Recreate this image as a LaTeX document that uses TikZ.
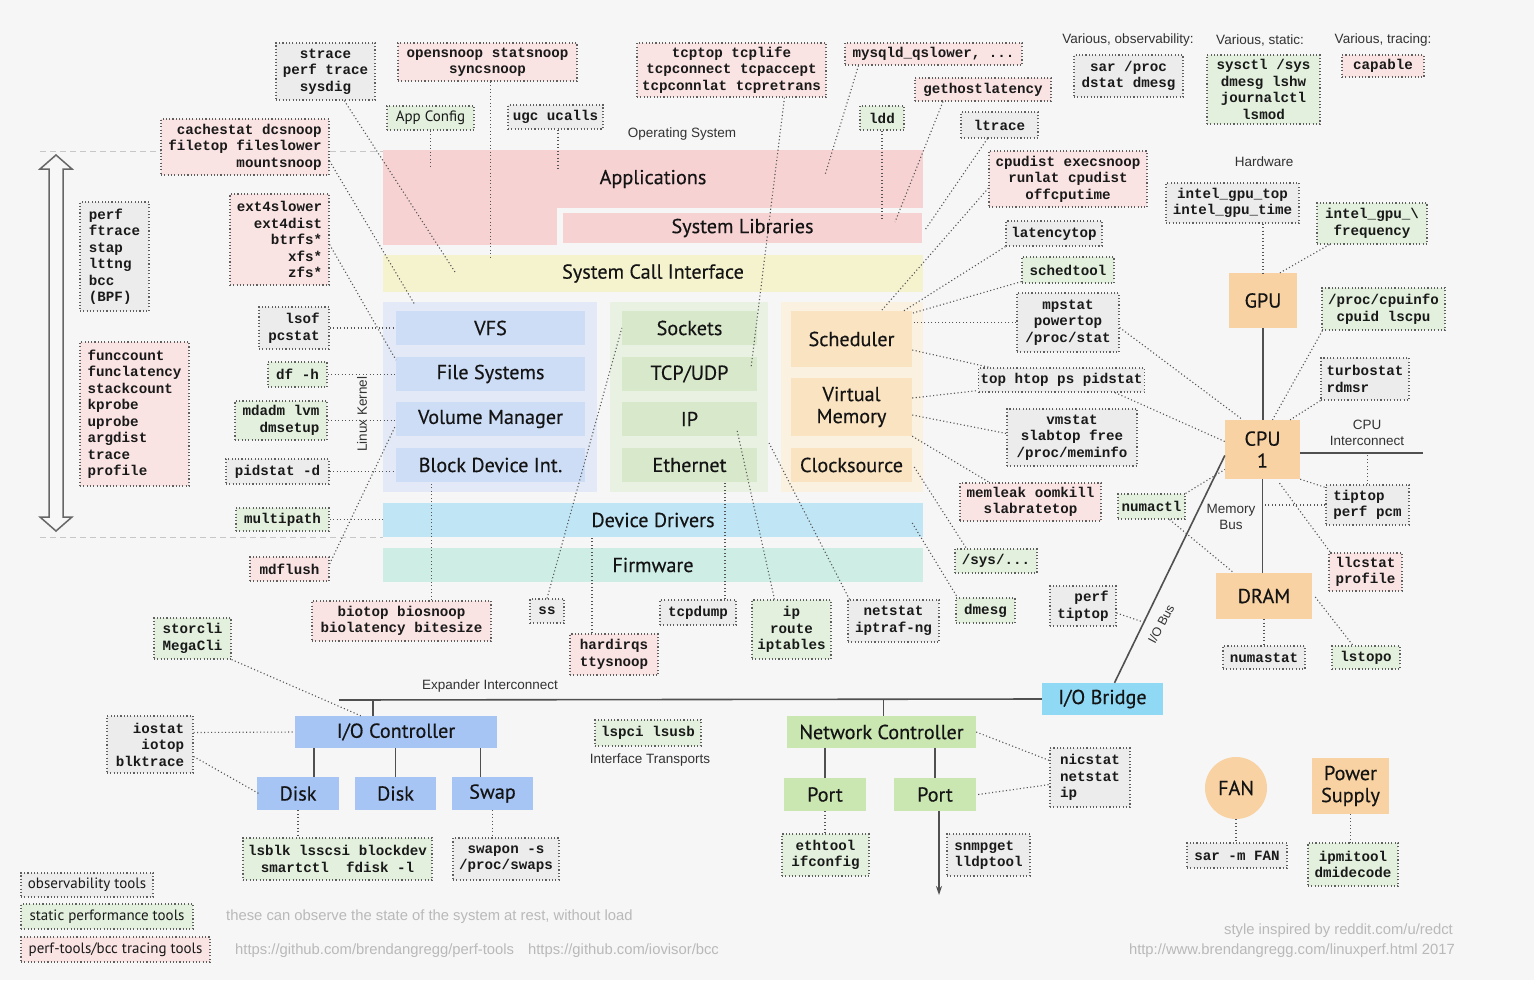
\documentclass[tikz,border=0pt]{standalone}
\usepackage{fontspec}
\setmainfont{Liberation Sans}
\newfontfamily\monof{Liberation Mono}
\newfontfamily\titlef[FakeBold=0.35]{PT Sans}
\newfontfamily\legf{PT Sans}
\usetikzlibrary{calc,arrows.meta}
\definecolor{bgc}{RGB}{246,246,246}
\definecolor{appc}{RGB}{247,210,211}
\definecolor{scic}{RGB}{245,243,206}
\definecolor{bgrpc}{RGB}{227,233,246}
\definecolor{bboxc}{RGB}{206,221,246}
\definecolor{ggrpc}{RGB}{233,241,226}
\definecolor{gboxc}{RGB}{216,232,202}
\definecolor{ogrpc}{RGB}{251,241,225}
\definecolor{oboxc}{RGB}{250,227,192}
\definecolor{ddc}{RGB}{192,229,245}
\definecolor{fwc}{RGB}{205,237,229}
\definecolor{hwc}{RGB}{248,210,162}
\definecolor{brc}{RGB}{143,217,245}
\definecolor{ioc}{RGB}{166,197,245}
\definecolor{ncc}{RGB}{202,231,178}
\definecolor{obsc}{RGB}{236,236,236}
\definecolor{stac}{RGB}{226,240,221}
\definecolor{trcc}{RGB}{250,227,227}
\definecolor{notec}{RGB}{95,95,95}
\definecolor{connc}{RGB}{85,85,85}
\definecolor{wirec}{RGB}{80,80,80}
\definecolor{lblc}{RGB}{50,50,50}
\definecolor{footc}{RGB}{185,185,185}
\newcommand\bx[7]{%
 \pgfmathsetmacro\bxcx{(#3+#5)/2}\pgfmathsetmacro\bxcy{(#4+#6)/2}%
 \pgfmathsetmacro\bxw{#5-#3}\pgfmathsetmacro\bxh{#6-#4}%
 \node[#2, minimum width=\bxw pt, minimum height=\bxh pt] (#1) at (\bxcx,\bxcy) {#7};}
\begin{document}
\begin{tikzpicture}[x=1pt,y=-1pt,
 note/.style={draw=notec, line width=1.1pt, dash pattern=on 1.1pt off 2.2pt, font=\monof\bfseries\fontsize{14.2}{16.5}\selectfont, inner sep=2pt, align=center, text=black!90},
 obs/.style={note, fill=obsc},
 sta/.style={note, fill=stac},
 trc/.style={note, fill=trcc},
 layer/.style={inner sep=0pt, font=\titlef\fontsize{20.2}{22}\selectfont, align=center, text=black!92},
 conn/.style={draw=connc, line width=1.1pt, dash pattern=on 1.1pt off 2.4pt},
 wire/.style={draw=wirec, line width=1.6pt},
 lbl/.style={font=\fontsize{13.5}{16}\selectfont, text=lblc, align=center, inner sep=0pt},
 foot/.style={font=\fontsize{14.8}{17}\selectfont, text=footc, inner sep=0pt},
 sansnote/.style={font=\legf\fontsize{15}{17}\selectfont}
]
\useasboundingbox (0,0) rectangle (1534,980);
\fill[bgc] (0,0) rectangle (1534,980);

% dashed guide lines
\draw[black!22, line width=0.9pt, dash pattern=on 6pt off 4pt] (40,151) -- (383,151);
\draw[black!22, line width=0.9pt, dash pattern=on 6pt off 4pt] (40,537) -- (383,537);

% big double arrow
\draw[black!60, line width=1.5pt, fill=white!97!black, line join=miter]
 (56,155) -- (72,169) -- (63,169) -- (63,517) -- (72,517) -- (56,531) -- (40,517) -- (49,517) -- (49,169) -- (40,169) -- cycle;

% ---------- OS layers
\bx{apps}{layer, fill=appc}{383}{150}{923}{208}{Applications}
\fill[appc] (383,207) rectangle (557,245);
\bx{syslib}{layer, fill=appc}{563}{213}{922}{243}{System Libraries}
\bx{sci}{layer, fill=scic}{383}{255}{923}{292}{System Call Interface}
\bx{bgrp}{layer, fill=bgrpc}{383}{302}{597}{492}{}
\bx{ggrp}{layer, fill=ggrpc}{610}{302}{768}{492}{}
\bx{ogrp}{layer, fill=ogrpc}{781}{302}{923}{492}{}
\bx{vfs}{layer, fill=bboxc}{396}{311}{585}{345}{VFS}
\bx{fs}{layer, fill=bboxc}{396}{357}{585}{391}{File Systems}
\bx{vm}{layer, fill=bboxc}{396}{402}{585}{436}{Volume Manager}
\bx{bdi}{layer, fill=bboxc}{396}{448}{585}{482}{Block Device Int.}
\bx{sock}{layer, fill=gboxc}{622}{311}{757}{345}{Sockets}
\bx{tcp}{layer, fill=gboxc}{622}{357}{757}{391}{TCP/UDP}
\bx{ip}{layer, fill=gboxc}{622}{402}{757}{436}{IP}
\bx{eth}{layer, fill=gboxc}{622}{448}{757}{482}{Ethernet}
\bx{sched}{layer, fill=oboxc}{791}{311}{912}{367}{Scheduler}
\bx{vmem}{layer, fill=oboxc}{791}{378}{912}{436}{Virtual\\Memory}
\bx{clk}{layer, fill=oboxc}{791}{448}{912}{482}{Clocksource}
\bx{dd}{layer, fill=ddc}{383}{503}{923}{537}{Device Drivers}
\bx{fw}{layer, fill=fwc}{383}{548}{923}{582}{Firmware}

% ---------- hardware
\bx{gpu}{layer, fill=hwc}{1229}{273}{1297}{328}{GPU}
\bx{cpu}{layer, fill=hwc}{1225}{420}{1300}{479}{CPU\\1}
\bx{dram}{layer, fill=hwc}{1216}{573}{1312}{619}{DRAM}
\bx{iobr}{layer, fill=brc}{1042}{683}{1163}{715}{I/O Bridge}
\bx{ioc}{layer, fill=ioc}{295}{716}{497}{748}{I/O Controller}
\bx{disk1}{layer, fill=ioc}{257}{777}{339}{810}{Disk}
\bx{disk2}{layer, fill=ioc}{355}{777}{436}{810}{Disk}
\bx{swap}{layer, fill=ioc}{452}{777}{533}{810}{Swap}
\bx{nc}{layer, fill=ncc}{787}{716}{976}{748}{Network Controller}
\bx{port1}{layer, fill=ncc}{784}{778}{866}{811}{Port}
\bx{port2}{layer, fill=ncc}{894}{778}{976}{811}{Port}
\node[layer, circle, fill=hwc, minimum size=62pt] (fan) at (1236,788) {FAN};
\bx{psu}{layer, fill=hwc}{1312}{758}{1389}{814}{Power\\Supply}

% ---------- labels
\node[lbl] (los) at (682,134) {Operating System};
\node[lbl] (lvo) at (1128,40) {Various, observability:};
\node[lbl] (lvs) at (1260,40) {Various, static:};
\node[lbl] (lvt) at (1383,40) {Various, tracing:};
\node[lbl] (lhw) at (1264,162) {Hardware};
\node[lbl] (lci) at (1367,433) {CPU\\Interconnect};
\node[lbl] (lmb) at (1231,517) {Memory\\Bus};
\node[lbl, font=\fontsize{12.5}{15}\selectfont, rotate=62] (liob) at (1161,624) {I/O Bus};
\node[lbl] (lexp) at (490,686) {Expander Interconnect};
\node[lbl] (lit) at (650,760) {Interface Transports};
\node[lbl, rotate=90] (llk) at (362,414) {Linux Kernel};

% ---------- solid wires
\coordinate (ic) at (1423,453);
\coordinate (exL) at (339,700);
\draw[wire] (gpu.south) -- (gpu.south |- cpu.north);
\draw[wire] (cpu.south) -- (cpu.south |- dram.north);
\draw[wire] (cpu.east |- ic) -- (ic);
\draw[wire] ($(cpu.west)+(0,6)$) -- ($(iobr.north)+(12,0)$);
\draw[wire] (exL) -- (iobr.west);
\draw[wire] ([xshift=-23pt]ioc.north) -- ([xshift=-23pt]ioc.north |- exL);
\draw[wire] ([xshift=2pt]nc.north) -- ([xshift=2pt]nc.north |- exL);
\draw[wire] ([xshift=16pt]disk1.north) -- ([xshift=16pt]disk1.north |- ioc.south);
\draw[wire] (disk2.north) -- (disk2.north |- ioc.south);
\draw[wire] ([xshift=-12pt]swap.north) -- ([xshift=-12pt]swap.north |- ioc.south);
\draw[wire] (port1.north) -- (port1.north |- nc.south);
\draw[wire] (port2.north) -- (port2.north |- nc.south);
\coordinate (netout) at (939,895);
\draw[wire, line width=1.4pt, -{Stealth[length=9pt,width=6pt]}] (port2.south -| netout) -- (netout);

% ---------- notes
\bx{strace}{obs}{276}{43}{375}{100}{strace\\perf trace\\sysdig}
\bx{opensnoop}{trc}{398}{43}{577}{81}{opensnoop statsnoop\\syncsnoop}
\bx{tcptop}{trc}{637}{43}{826}{97}{tcptop tcplife\\tcpconnect tcpaccept\\tcpconnlat tcpretrans}
\bx{mysqld}{trc}{845}{43}{1022}{65}{mysqld\_qslower, ...}
\bx{gethost}{trc}{915}{78}{1051}{101}{gethostlatency}
\bx{ldd}{sta}{860}{106}{904}{130}{ldd}
\bx{ltrace}{obs}{961}{112}{1038}{138}{ltrace}
\bx{cpudist}{trc}{989}{151}{1147}{207}{cpudist execsnoop\\runlat cpudist\\offcputime}
\bx{latencytop}{obs}{1006}{221}{1102}{246}{latencytop}
\bx{schedtool}{sta}{1022}{257}{1114}{283}{schedtool}
\bx{mpstat}{obs}{1017}{293}{1119}{352}{mpstat\\powertop\\/proc/stat}
\bx{tophtop}{obs}{988}{368}{1135}{392}{top htop ps pidstat}
\bx{vmstat}{obs}{1007}{409}{1137}{466}{vmstat\\slabtop free\\/proc/meminfo}
\bx{memleak}{trc}{960}{483}{1101}{521}{memleak oomkill\\slabratetop}
\bx{sys}{sta}{955}{549}{1037}{573}{/sys/...}
\bx{dmesg}{sta}{956}{598}{1015}{623}{dmesg}
\bx{perftip}{obs, align=right}{1050}{586}{1116}{626}{perf\\tiptop}
\bx{numactl}{sta}{1118}{494}{1185}{519}{numactl}
\bx{appconf}{sta, sansnote}{387}{106}{474}{130}{App Config}
\bx{ugc}{obs}{508}{105}{603}{129}{ugc ucalls}
\bx{cachestat}{trc, align=right}{161}{119}{329}{175}{cachestat dcsnoop\\filetop fileslower\\mountsnoop}
\bx{ext4}{trc, align=right}{230}{194}{329}{285}{ext4slower\\ext4dist\\btrfs*\\xfs*\\zfs*}
\bx{perfl}{obs, align=left}{80}{202}{149}{311}{perf\\ftrace\\stap\\lttng\\bcc\\(BPF)}
\bx{funcc}{trc, align=left}{80}{342}{189}{486}{funccount\\funclatency\\stackcount\\kprobe\\uprobe\\argdist\\trace\\profile}
\bx{lsof}{obs, align=right}{259}{307}{329}{349}{lsof\\pcstat}
\bx{dfh}{sta}{268}{362}{327}{387}{df -h}
\bx{mdadm}{sta, align=right}{235}{401}{327}{440}{mdadm lvm\\dmsetup}
\bx{pidstatd}{obs}{226}{459}{329}{484}{pidstat -d}
\bx{multipath}{sta}{236}{508}{329}{531}{multipath}
\bx{mdflush}{trc}{250}{557}{329}{581}{mdflush}
\bx{sarproc}{obs}{1074}{55}{1183}{97}{sar /proc\\dstat dmesg}
\bx{sysctl}{sta}{1207}{55}{1320}{124}{sysctl /sys\\dmesg lshw\\journalctl\\lsmod}
\bx{capable}{trc}{1342}{55}{1424}{77}{capable}
\bx{igt}{obs}{1166}{183}{1299}{223}{intel\_gpu\_top\\intel\_gpu\_time}
\bx{igf}{sta}{1317}{203}{1427}{244}{intel\_gpu\_\textbackslash\\frequency}
\bx{cpuinfo}{sta}{1322}{288}{1445}{330}{/proc/cpuinfo\\cpuid lscpu}
\bx{turbo}{obs, align=left}{1321}{358}{1409}{400}{turbostat\\rdmsr}
\bx{tiptop}{obs, align=left}{1326}{485}{1409}{525}{tiptop\\perf pcm}
\bx{llc}{trc}{1329}{553}{1402}{591}{llcstat\\profile}
\bx{numastat}{obs}{1223}{646}{1305}{669}{numastat}
\bx{lstopo}{sta}{1332}{646}{1400}{669}{lstopo}
\bx{biotop}{trc}{312}{601}{491}{641}{biotop biosnoop\\biolatency bitesize}
\bx{ss}{obs}{530}{599}{564}{623}{ss}
\bx{hardirqs}{trc}{570}{634}{658}{675}{hardirqs\\ttysnoop}
\bx{tcpdump}{obs}{660}{600}{736}{625}{tcpdump}
\bx{iproute}{sta}{752}{600}{831}{659}{ip\\route\\iptables}
\bx{netstat}{obs}{848}{600}{939}{642}{netstat\\iptraf-ng}
\bx{storcli}{sta, align=left}{154}{618}{231}{659}{storcli\\MegaCli}
\bx{iostat}{obs, align=right}{107}{716}{193}{773}{iostat\\iotop\\blktrace}
\bx{lspci}{sta}{595}{720}{701}{746}{lspci lsusb}
\bx{lsblk}{sta}{243}{838}{432}{880}{lsblk lsscsi blockdev\\smartctl\ \ fdisk -l}
\bx{swapon}{obs}{453}{838}{559}{880}{swapon -s\\/proc/swaps}
\bx{ethtool}{sta}{782}{834}{869}{876}{ethtool\\ifconfig}
\bx{snmp}{obs, align=left}{947}{834}{1030}{876}{snmpget\\lldptool}
\bx{nicstat}{obs, align=left}{1050}{748}{1130}{807}{nicstat\\netstat\\ip}
\bx{sarfan}{obs}{1187}{843}{1287}{868}{sar -m FAN}
\bx{ipmi}{sta}{1308}{843}{1398}{886}{ipmitool\\dmidecode}
\bx{leg1}{obs, sansnote}{21}{873}{153}{897}{observability tools}
\bx{leg2}{sta, sansnote}{21}{904}{193}{929}{static performance tools}
\bx{leg3}{trc, sansnote}{21}{937}{210}{962}{perf-tools/bcc tracing tools}

% ---------- dotted connectors
\coordinate (eStrace) at (455,272);
\coordinate (eTcp) at (751,368);
\coordinate (eMysql) at (825,175);
\coordinate (eGh) at (895,222);
\coordinate (eLt) at (925,230);
\coordinate (eCpud) at (882,310);
\coordinate (eLat) at (902,312);
\coordinate (eSt) at (913,313);
\coordinate (eIob) at (1143,622);
\coordinate (eIp) at (737,430);
\coordinate (eNs) at (769,443);
\coordinate (eCs) at (415,305);
\coordinate (eExt) at (396,360);
\draw[conn] (strace) -- (eStrace);
\draw[conn] ([xshift=3pt]opensnoop.south) -- ++(0,176);
\draw[conn] (appconf.south) -- ++(0,38);
\draw[conn] ([xshift=2.5pt]ugc.south) -- ++(0,39);
\draw[conn] ([xshift=53pt]tcptop.south) -- (eTcp);
\draw[conn] ([xshift=-75pt]mysqld.south) -- (eMysql);
\draw[conn] ([xshift=-40pt]gethost.south) -- (eGh);
\draw[conn] (ldd.south) -- ++(0,90);
\draw[conn] ([xshift=-12pt]ltrace.south) -- (eLt);
\draw[conn] ($(cpudist.west)+(0,9)$) -- (eCpud);
\draw[conn] (latencytop.south west) -- (eLat);
\draw[conn] ($(schedtool.south west)+(0,-2)$) -- (eSt);
\draw[conn] (mpstat.west) -- (mpstat.west -| sched.east);
\draw[conn] ($(mpstat.east)+(0,5)$) -- ($(cpu.north west)+(18,0)$);
\draw[conn] ($(sched.east)+(0,11)$) -- ($(tophtop.north west)+(12,0)$);
\draw[conn] ($(vmem.east)+(0,-9)$) -- ($(tophtop.south west)+(0,-2)$);
\draw[conn] ($(tophtop.south east)+(-30,0)$) -- ($(cpu.west)+(0,-8)$);
\draw[conn] ($(vmem.east)+(0,8)$) -- ($(vmstat.west)+(0,-4)$);
\draw[conn] (vmem.south east) -- ($(memleak.north west)+(30,0)$);
\draw[conn] ($(clk.east)+(2,2)$) -- ($(sys.north west)+(12,0)$);
\draw[conn] ($(dd.east)+(-11,3)$) -- ($(dmesg.north west)+(2,0)$);
\draw[conn] (numactl.north east) -- ($(cpu.west)+(0,20)$);
\draw[conn] ($(numactl.south east)+(-16,0)$) -- ($(dram.north west)+(18,0)$);
\draw[conn] ($(perftip.east)+(0,7)$) -- (eIob);
\draw[conn] (gpu.north |- igt.south) -- (gpu.north);
\draw[conn] ($(igf.south west)+(13,0)$) -- ($(gpu.north)+(17,0)$);
\draw[conn] ($(cpuinfo.south west)+(1,0)$) -- ($(cpu.north)+(10,0)$);
\draw[conn] (turbo.south west) -- ($(cpu.north east)+(-10,0)$);
\draw[conn] (cpu.south east) -- ($(tiptop.north west)+(0,3)$);
\draw[conn] (tiptop.west) -- (tiptop.west -| cpu.south);
\draw[conn] (tiptop.north) -- (tiptop.north |- ic);
\draw[conn] ($(cpu.south)+(17,4)$) -- ($(llc.north west)+(2,0)$);
\draw[conn] ($(dram.east)+(3,1)$) -- ($(lstopo.north)+(-13,0)$);
\draw[conn] (dram.south) -- (dram.south |- numastat.north);
\coordinate (bioT) at ($(biotop.north)+(30,0)$);
\draw[conn] (bioT) -- (bioT |- bdi.south);
\draw[conn] (ss.north) -- (sock.west);
\coordinate (hiT) at ($(hardirqs.north)+(-22,0)$);
\draw[conn] (hiT) -- (hiT |- dd.south);
\coordinate (tdT) at ($(tcpdump.north)+(27,0)$);
\draw[conn] (tdT) -- (tdT |- eth.south);
\draw[conn] ($(iproute.north)+(-17,0)$) -- (eIp);
\draw[conn] ($(netstat.north)+(-44,0)$) -- (eNs);
\draw[conn] (storcli.south east) -- ($(ioc.north west)+(66,0)$);
\draw[conn] ($(iostat.east)+(0,-12)$) -- (ioc.west);
\draw[conn] ($(iostat.east)+(0,12)$) -- ($(disk1.west)+(2,0)$);
\draw[conn] (disk1.south) -- (disk1.south |- lsblk.north);
\draw[conn] (swap.south) -- (swap.south |- swapon.north);
\draw[conn] (port1.south) -- (port1.south |- ethtool.north);
\draw[conn] (nc.east) -- ($(nicstat.west)+(0,-17)$);
\draw[conn] ($(port2.east)+(2,0)$) -- ($(nicstat.west)+(0,7)$);
\draw[conn] (fan.south) -- (fan.south |- sarfan.north);
\draw[conn] (psu.south) -- (psu.south |- ipmi.north);
\draw[conn] ($(cachestat.east)+(0,14)$) -- (eCs);
\draw[conn] ($(ext4.east)+(0,5)$) -- (eExt);
\draw[conn] (lsof.east) -- (lsof.east -| vfs.west);
\draw[conn] (dfh.east) -- (dfh.east -| fs.west);
\draw[conn] (mdadm.east) -- (mdadm.east -| vm.west);
\draw[conn] (pidstatd.east) -- (pidstatd.east -| bdi.west);
\draw[conn] (multipath.east) -- (multipath.east -| dd.west);
\draw[conn] ($(mdflush.east)+(0,-5)$) -- ($(vm.west)+(0,6)$);

% ---------- footer
\node[foot, anchor=west] (f1) at (226,917) {these can observe the state of the system at rest, without load};
\node[foot, anchor=west] (f2) at (235,951) {https://github.com/brendangregg/perf-tools\hspace{14pt}https://github.com/iovisor/bcc};
\node[foot, anchor=east] (f3) at (1453,931) {style inspired by reddit.com/u/redct};
\node[foot, anchor=east] (f4) at (1455,951) {http://www.brendangregg.com/linuxperf.html 2017};
\end{tikzpicture}
\end{document}
